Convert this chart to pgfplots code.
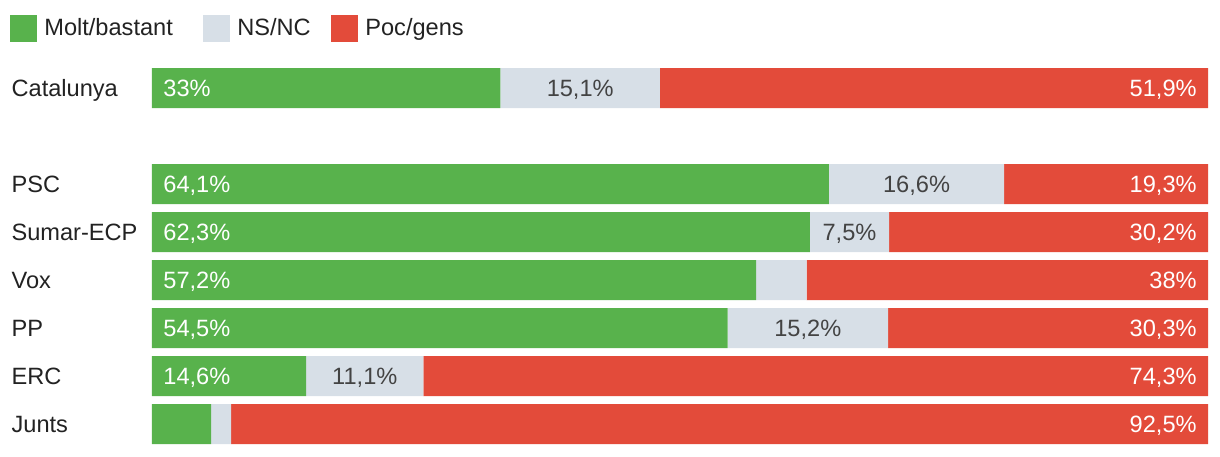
\documentclass[border=0pt]{standalone}
\usepackage{pgfplots}
\pgfplotsset{compat=1.18}
\usepackage{fontspec}
\setmainfont{Liberation Sans}
\definecolor{cgreen}{HTML}{58B24C}
\definecolor{cgrey}{HTML}{D7DFE7}
\definecolor{cred}{HTML}{E34B3A}
\definecolor{ctext}{HTML}{222222}
\tikzset{
  lab/.style={inner sep=0pt, text height=8.45pt, text depth=0pt},
  glab/.style={lab, anchor=west, text=white, xshift=5.5pt},
  nlab/.style={lab, anchor=center, text=ctext!85},
  rlab/.style={lab, anchor=east, text=white, xshift=-5.5pt},
}
\begin{document}
\begin{tikzpicture}[font=\fontsize{11.8}{14}\selectfont]
\begin{axis}[
  at={(0,0)}, anchor=south west,
  scale only axis, width=528pt, height=192pt,
  xbar stacked, bar width=20pt,
  xmin=0, xmax=100, ymin=-0.5, ymax=7.5, y dir=reverse,
  axis line style={draw=none}, major tick length=0pt,
  xtick=\empty,
  ytick={0,2,3,4,5,6,7},
  yticklabels={Catalunya,PSC,Sumar-ECP,Vox,PP,ERC,Junts},
  yticklabel style={text width=70pt, align=left, inner sep=0pt, anchor=east, text=ctext, text height=8.45pt, text depth=0pt},
  clip=false,
  legend columns=3,
  legend image code/.code={\fill[#1] (0pt,-6.75pt) rectangle (13.5pt,6.75pt);},
  legend style={at={(rel axis cs:-0.1345,1.130)}, anchor=north west, draw=none, fill=none,
    inner sep=0pt, nodes={inner xsep=3.5pt, inner ysep=2pt, text=ctext},
    /tikz/every even column/.style={column sep=7pt}},
]
\addplot[fill=cgreen, draw=none] coordinates {(33,0) (64.1,2) (62.3,3) (57.2,4) (54.5,5) (14.6,6) (5.6,7)};
\addlegendentry{\makebox[69pt][l]{Molt/bastant}}
\addplot[fill=cgrey, draw=none] coordinates {(15.1,0) (16.6,2) (7.5,3) (4.8,4) (15.2,5) (11.1,6) (1.9,7)};
\addlegendentry{\makebox[36.5pt][l]{NS/NC}}
\addplot[fill=cred, draw=none] coordinates {(51.9,0) (19.3,2) (30.2,3) (38,4) (30.3,5) (74.3,6) (92.5,7)};
\addlegendentry{Poc/gens}
\coordinate (g0) at (axis cs:0,0);
\coordinate (g2) at (axis cs:0,2);
\coordinate (g3) at (axis cs:0,3);
\coordinate (g4) at (axis cs:0,4);
\coordinate (g5) at (axis cs:0,5);
\coordinate (g6) at (axis cs:0,6);
\coordinate (n0) at (axis cs:40.55,0);
\coordinate (n2) at (axis cs:72.4,2);
\coordinate (n3) at (axis cs:66.05,3);
\coordinate (n5) at (axis cs:62.1,5);
\coordinate (n6) at (axis cs:20.15,6);
\coordinate (r0) at (axis cs:100,0);
\coordinate (r2) at (axis cs:100,2);
\coordinate (r3) at (axis cs:100,3);
\coordinate (r4) at (axis cs:100,4);
\coordinate (r5) at (axis cs:100,5);
\coordinate (r6) at (axis cs:100,6);
\coordinate (r7) at (axis cs:100,7);
\end{axis}
\node[glab] at (g0) {33\%};
\node[glab] at (g2) {64,1\%};
\node[glab] at (g3) {62,3\%};
\node[glab] at (g4) {57,2\%};
\node[glab] at (g5) {54,5\%};
\node[glab] at (g6) {14,6\%};
\node[nlab] at (n0) {15,1\%};
\node[nlab] at (n2) {16,6\%};
\node[nlab] at (n3) {7,5\%};
\node[nlab] at (n5) {15,2\%};
\node[nlab] at (n6) {11,1\%};
\node[rlab] at (r0) {51,9\%};
\node[rlab] at (r2) {19,3\%};
\node[rlab] at (r3) {30,2\%};
\node[rlab] at (r4) {38\%};
\node[rlab] at (r5) {30,3\%};
\node[rlab] at (r6) {74,3\%};
\node[rlab] at (r7) {92,5\%};
\pgfresetboundingbox
\path[use as bounding box] (-76pt,-4pt) rectangle (534pt,224pt);
\end{tikzpicture}
\end{document}
